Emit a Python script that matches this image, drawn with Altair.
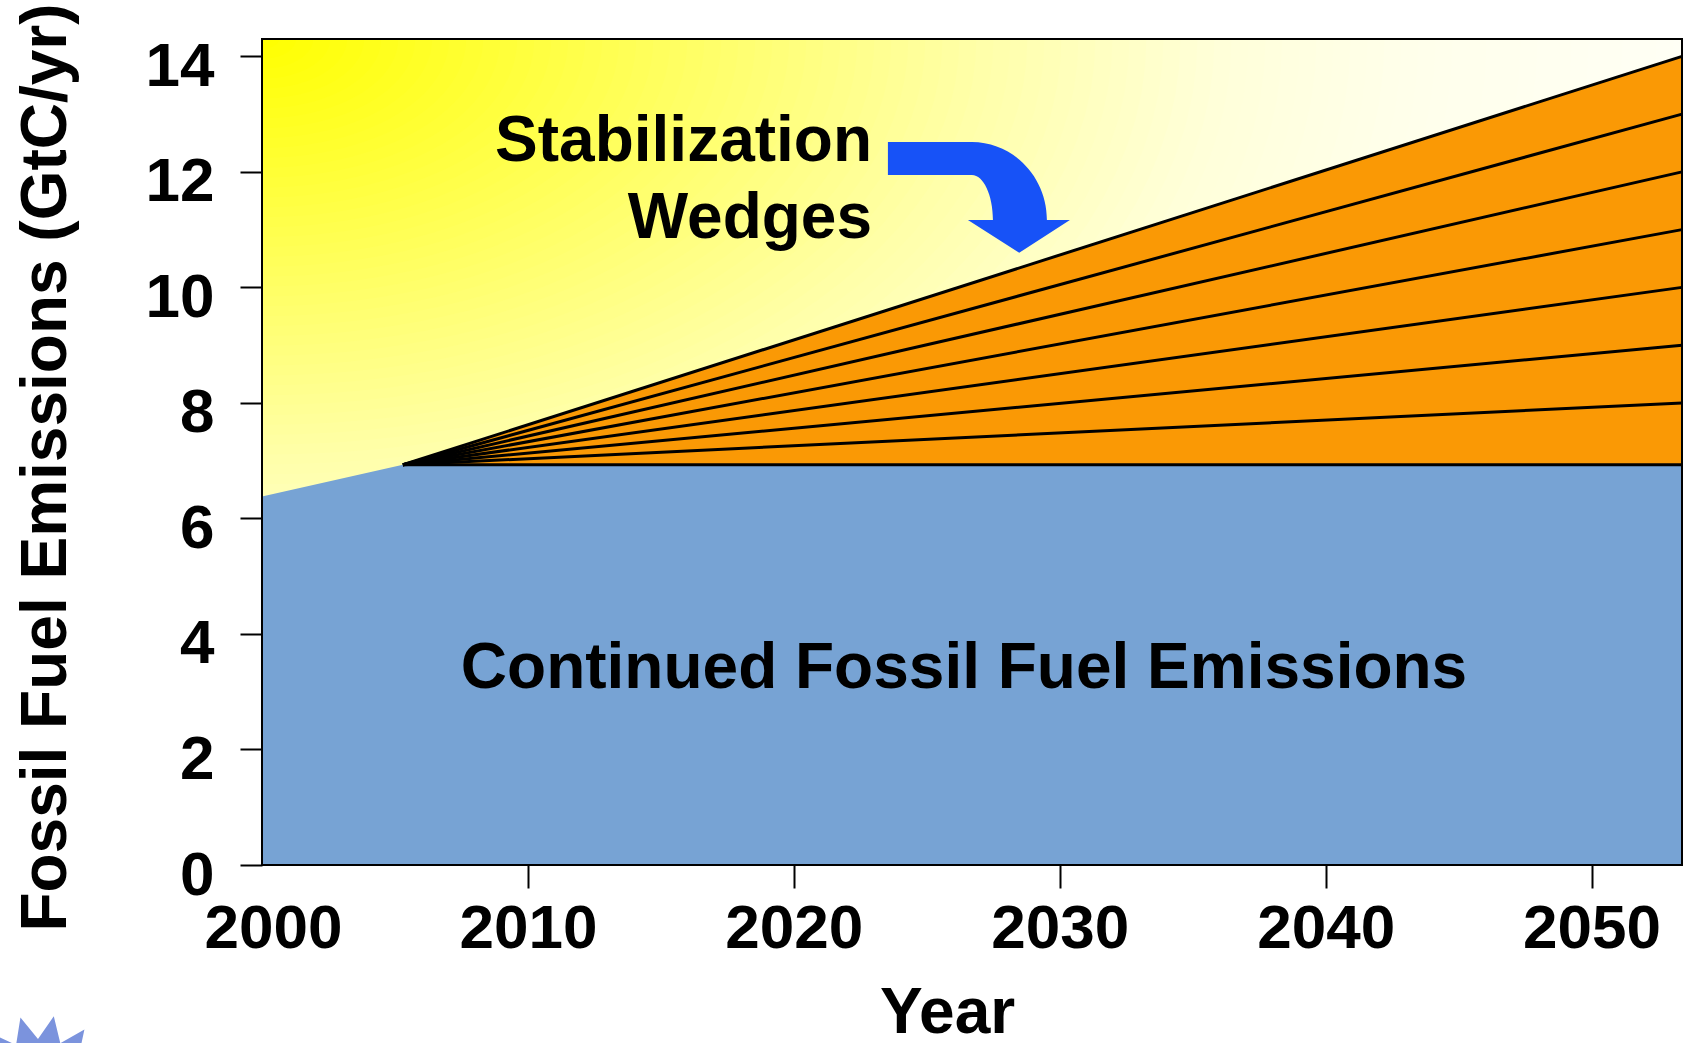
import math
import altair as alt
import pandas as pd

# ---------------- data (GtC/yr) ----------------
base_years = [2000, 2005.3, 2053.4]
base_values = [6.38, 6.93, 6.93]          # continued fossil fuel emissions

wedge_years = [2005.3, 2053.4]
wedge_floor = 6.93
wedge_tops = [8, 9, 10, 11, 12, 13, 14]   # each wedge boundary at the right edge

x_ticks = [2000, 2010, 2020, 2030, 2040, 2050]
y_ticks = [0, 2, 4, 6, 8, 10, 12, 14]

note_text = ["Stabilization", "Wedges"]
note_year = [2022.94, 2022.94]
note_value = [12.19, 10.85]

base_label = ["Continued Fossil Fuel Emissions"]
base_label_year = [2026.4]
base_label_value = [3.06]

arrow_year = [2026.96]
arrow_value = [11.556]

# ---------------- layout ----------------
W, H = 1420, 826
FONT = "Liberation Sans"
ORANGE = "#FA9905"
BLUE = "#77A3D4"
ARROW_BLUE = "#1752F7"

# background glow: relative distance from the top-left corner -> colour
glow_dist = [0.0, 0.65, 0.87, 1.05, 1.35, 1.7]
glow_colors = ["#ffff00", "#ffffa8", "#ffffd9", "#ffffeb", "#fffff7", "#ffffff"]

xs = alt.Scale(domain=[2000, 2053.4], nice=False, zero=False)
ys = alt.Scale(domain=[0, 14.3], nice=False, zero=False)

x_axis = alt.Axis(
    values=x_ticks, format="d", title="Year", grid=False, domain=False,
    tickSize=23, tickWidth=2, tickColor="black",
    tickOpacity={"condition": {"test": "datum.value == 2000", "value": 0}, "value": 1},
    labelFont=FONT, labelFontSize=62, labelFontWeight="bold", labelColor="black",
    labelPadding=10, labelFlush=True, labelFlushOffset=58,
    titleFont=FONT, titleFontSize=64, titleFontWeight="bold", titleColor="black",
    titleX=685, titleY=167, titleAlign="center", titleBaseline="alphabetic",
)
y_axis = alt.Axis(
    values=y_ticks, format="d", title="Fossil Fuel Emissions (GtC/yr)", grid=False, domain=False,
    tickSize=22, tickWidth=2, tickColor="black",
    labelFont=FONT, labelFontSize=62, labelFontWeight="bold", labelColor="black",
    labelPadding=26, labelBaseline="middle", labelOffset=10,
    titleFont=FONT, titleFontSize=64, titleFontWeight="bold", titleColor="black",
    titleAngle=270, titleX=-197, titleY=428, titleAlign="center", titleBaseline="alphabetic",
)


def X(field):
    return alt.X(field, type="quantitative", scale=xs, axis=x_axis)


def Y(field):
    return alt.Y(field, type="quantitative", scale=ys, axis=y_axis)


# ---------------- yellow glow: nested ellipses from the top-left corner ----------------
aspect = H / W
ring = [(math.cos(2 * math.pi * i / 120), aspect * math.sin(2 * math.pi * i / 120)) for i in range(120)]
ELLIPSE = "M" + " L".join(f"{px:.4f},{py:.4f}" for px, py in ring) + " Z"
STEPS = 110
glow_rx = 0.775 * W
d_max = glow_dist[-1]

glow = (
    alt.Chart(alt.sequence(1, STEPS + 1, as_="k"))
    .transform_calculate(
        d=f"{d_max} * (datum.k - 0.5) / {STEPS}",
        sz=f"pow(2 * {glow_rx} * {d_max} * datum.k / {STEPS}, 2)",
    )
    .mark_point(shape=ELLIPSE, filled=True, opacity=1, strokeWidth=0, clip=True)
    .encode(
        x=alt.value(0),
        y=alt.value(0),
        size=alt.Size("sz:Q", scale=None),
        color=alt.Color(
            "d:Q",
            scale=alt.Scale(domain=glow_dist, range=glow_colors, interpolate="rgb"),
            legend=None,
        ),
        order=alt.Order("k:Q", sort="descending"),
    )
)

# ---------------- emissions areas ----------------
base_df = pd.DataFrame({"year": base_years, "value": base_values})
blue = alt.Chart(base_df).mark_area(color=BLUE, opacity=1).encode(
    x=X("year"), y=Y("value"), y2=alt.datum(0)
)

wedge_df = pd.DataFrame({
    "year": wedge_years,
    "top": [wedge_floor, max(wedge_tops)],
    "floor": [wedge_floor, wedge_floor],
})
orange = alt.Chart(wedge_df).mark_area(color=ORANGE, opacity=1).encode(
    x=X("year"), y=Y("top"), y2="floor"
)

rows = []
for i, end in enumerate([wedge_floor] + wedge_tops):
    rows.append({"edge": i, "year": wedge_years[0], "value": wedge_floor})
    rows.append({"edge": i, "year": wedge_years[1], "value": end})
edges = alt.Chart(pd.DataFrame(rows)).mark_line(color="black", strokeWidth=3).encode(
    x=X("year"), y=Y("value"), detail="edge:N"
)

# ---------------- annotations ----------------
notes = alt.Chart(pd.DataFrame({"t": note_text, "year": note_year, "value": note_value})).mark_text(
    font=FONT, fontSize=64, fontWeight="bold", color="black", align="right", baseline="alphabetic"
).encode(x=X("year"), y=Y("value"), text="t:N")

base_note = alt.Chart(pd.DataFrame({"t": base_label, "year": base_label_year, "value": base_label_value})).mark_text(
    font=FONT, fontSize=64, fontWeight="bold", color="black", align="center", baseline="alphabetic"
).encode(x=X("year"), y=Y("value"), text="t:N")

# bent arrow pointing down at the wedges
ARROW = (
    "M-1.000,-0.610 L-0.077,-0.610 C0.378,-0.610 0.747,-0.225 0.747,0.247 "
    "L1.000,0.247 L0.443,0.607 L-0.121,0.247 L0.154,0.247 "
    "C0.154,-0.025 0.051,-0.247 -0.077,-0.247 L-1.000,-0.247 Z"
)
arrow = alt.Chart(pd.DataFrame({"year": arrow_year, "value": arrow_value})).mark_point(
    shape=ARROW, filled=True, fill=ARROW_BLUE, opacity=1, strokeWidth=0, size=182 ** 2
).encode(x=X("year"), y=Y("value"))

# frame around the plot area
frame = alt.Chart(pd.DataFrame({"k": [0]})).mark_rect(
    fillOpacity=0, stroke="black", strokeWidth=2
).encode(x=alt.value(0), x2=alt.value(W), y=alt.value(0), y2=alt.value(H))

# starburst emblem in the lower-left corner
n_pts = 14
phase = math.radians(10.6)
star_pts = []
for j in range(2 * n_pts):
    r = 1.0 if j % 2 == 0 else 0.68
    th = phase + j * math.pi / n_pts
    star_pts.append((r * math.sin(th), -r * math.cos(th)))
STAR = "M" + " L".join(f"{px:.4f},{py:.4f}" for px, py in star_pts) + " Z"
star = alt.Chart(pd.DataFrame({"k": [0]})).mark_point(
    shape=STAR, filled=True, fill="#7B93DD", opacity=1, strokeWidth=0, size=150 ** 2
).encode(x=alt.value(40 - 262), y=alt.value(1090 - 39))

chart = (
    alt.layer(glow, blue, orange, edges, notes, base_note, arrow, frame, star)
    .properties(
        width=W,
        height=H,
        padding={"left": 262, "top": 39, "right": 7, "bottom": 178},
        autosize=alt.AutoSizeParams(type="none"),
        background="white",
    )
    .configure_view(stroke=None)
)

chart.save("out.html", embed_options={"renderer": "svg", "actions": False})
